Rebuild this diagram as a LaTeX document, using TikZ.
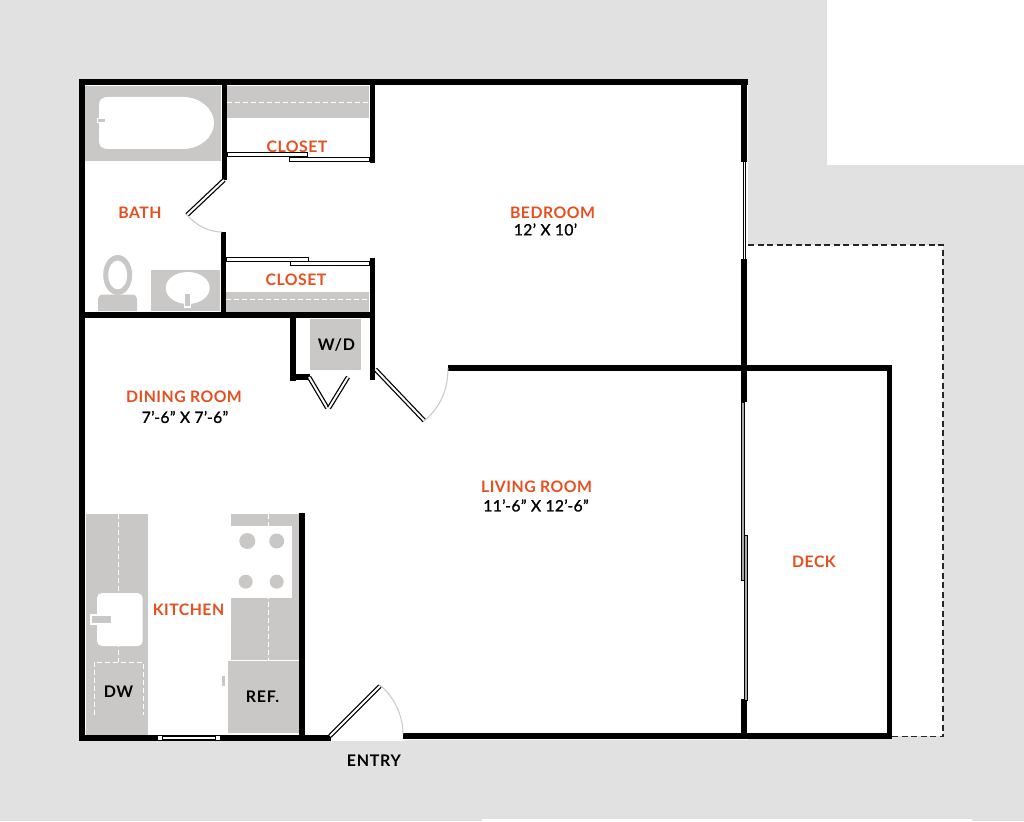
\documentclass[tikz,border=0pt]{standalone}
\usepackage{fontspec}
\setmainfont{Lato}
\newfontfamily\roomfont[LetterSpace=3]{Lato Bold}
\newfontfamily\sizefont[LetterSpace=2.5,FakeBold=1.2]{Lato}
\newfontfamily\appliancefont[LetterSpace=4.5]{Lato Bold}
\definecolor{planbg}{HTML}{E1E1E1}
\definecolor{fixture}{HTML}{C9C8C6}
\definecolor{roomorange}{HTML}{E5501E}
\begin{document}
\begin{tikzpicture}[x=1pt,y=-1pt,
    wall/.style={fill=black},
    fixture/.style={fill=fixture},
    leaf/.style={draw=black,double=white,double distance=2pt,line width=1.25pt},
    track/.style={draw=black,fill=white,line width=1pt},
    slider/.style={draw=black,fill=fixture!85!black,line width=1pt},
    swing/.style={draw=fixture,line width=1pt},
    shelf/.style={draw=white,line width=1pt,dash pattern=on 5pt off 3pt},
    room/.style={text=roomorange,font=\fontsize{15.8}{18}\selectfont\roomfont,inner sep=0pt},
    size/.style={text=black,font=\fontsize{15.6}{17}\selectfont\sizefont,inner sep=0pt},
    appliance/.style={text=black,font=\fontsize{16}{17}\selectfont\appliancefont,inner sep=0pt}]
  \useasboundingbox (0,0) rectangle (1024,821);
  \fill[planbg] (0,0) rectangle (1024,821);
  \fill[white] (827,0) rectangle (1024,165);
  \fill[white] (482,819) rectangle (972,821);
  \fill[white] (79,79) rectangle (748,741);
  \fill[white] (748,245) rectangle (943,736);
  \fill[planbg] (404,739.5) rectangle (943,742);

  \fill[fixture] (85,86) rectangle (221,161);
  \fill[white] (183,97) -- (108,97) .. controls (102,97) and (99,100) .. (99,105)
    -- (99,141) .. controls (99,146) and (102,149) .. (108,149) -- (183,149)
    .. controls (200,149) and (214,137) .. (214,123)
    .. controls (214,109) and (200,97) .. (183,97) -- cycle;
  \fill[white] (97,118) rectangle (106,123);
  \fill[fixture] (98,119) rectangle (105,122);
  \fill[fixture] (227,86) rectangle (369,118);
  \draw[shelf] (227,103) -- (369,103);
  \fill[fixture] (226,292) rectangle (369,312);
  \draw[shelf] (226,299) -- (369,299);

  \fill[even odd rule,fixture] (117.7,275) ellipse [x radius=14.5pt,y radius=20pt]
    (117.7,275) ellipse [x radius=9.5pt,y radius=14.5pt];
  \fill[fixture] (98,311) -- (98,300) .. controls (98,296) and (100,294.5) .. (104,294.5)
    -- (131,294.5) .. controls (135,294.5) and (137,296) .. (137,300) -- (137,311) -- cycle;
  \fill[fixture] (151,270) rectangle (220,311);
  \fill[white] (187.7,288) ellipse [x radius=22pt,y radius=16pt];
  \fill[white] (183.5,292.5) rectangle (191,307.5);
  \fill[fixture] (185,294) rectangle (189.5,306);

  \fill[fixture] (310,319) rectangle (361,370);

  \fill[fixture] (85.7,514) rectangle (147.7,735);
  \draw[shelf] (118.3,514) -- (118.3,662);
  \fill[white,rounded corners=5pt] (97,593) rectangle (142.7,646);
  \fill[white] (90,614) rectangle (111,625);
  \fill[fixture] (92,616) rectangle (111,623);
  \draw[shelf] (94.3,715) -- (94.3,662) -- (143.3,662) -- (143.3,715);
  \fill[fixture] (231,514) rectangle (299,660);
  \draw[shelf] (268.3,514) -- (268.3,660);
  \fill[white] (229,526) rectangle (292,598);
  \foreach \bx/\by/\br in {247.3/541/8,276.7/541/7.5,245.7/581.7/7,276.7/581.7/7}
    \fill[fixture] (\bx,\by) circle [radius=\br pt];
  \fill[white] (227,660) rectangle (299,733.5);
  \fill[fixture] (228,661) rectangle (298.5,732.5);
  \fill[fixture] (222,676) rectangle (225,686);

  \fill[wall] (79.3,79.3) rectangle (748,85.5);
  \fill[wall] (79.3,79.3) rectangle (85.3,741);
  \fill[wall] (79.3,735) rectangle (331,741);
  \fill[wall] (403,733) rectangle (892,739);
  \fill[wall] (85,312) rectangle (375,318);
  \fill[wall] (221.7,85) rectangle (226.7,180);
  \fill[wall] (221,232) rectangle (226,312);
  \fill[wall] (369.5,85) rectangle (375,163);
  \fill[wall] (369.5,258) rectangle (375,380);
  \fill[wall] (290,318) rectangle (295.7,381);
  \fill[wall] (295,374) rectangle (310,380);
  \fill[wall] (448,365) rectangle (892,371);
  \fill[wall] (741.3,85) rectangle (747.3,162);
  \fill[wall] (741.3,259) rectangle (747.3,402);
  \fill[wall] (741.3,699) rectangle (747.3,739);
  \fill[wall] (886.7,365) rectangle (892,739);
  \fill[wall] (299,513) rectangle (305,741);

  \fill[white] (158,736) rectangle (162,740);
  \fill[white] (216,736) rectangle (220,740);
  \fill[white] (163,737) rectangle (215,739.2);

  \draw[track] (227,153) rectangle (307,156.5);
  \draw[track] (289.5,157.5) rectangle (369.5,161.5);
  \draw[track] (226,257) rectangle (308,261);
  \draw[track] (290,261.5) rectangle (369.5,265.5);

  \draw[leaf] (224,180) -- (187,215);
  \draw[leaf] (309,377) -- (327.3,408);
  \draw[leaf] (348,377) -- (329,408);
  \draw[leaf] (375.3,369.3) -- (424.3,420.7);
  \draw[leaf] (330,736) -- (380,686);
  \draw[leaf,double distance=1.2pt,line width=.8pt] (744.3,162) -- (744.3,259);
  \draw[slider] (741.5,402) rectangle (744.5,580);
  \draw[slider] (744.2,535) rectangle (747.8,700);

  \draw[swing] (187,215) .. controls (196,225) and (208,232) .. (222,232);
  \draw[swing] (424,421) .. controls (440,408) and (448,390) .. (448,368);
  \draw[swing] (380,685) .. controls (394,697) and (403,715) .. (403,734);

  \draw[black!85,line width=1.7pt,dash pattern=on 6pt off 3.5pt]
    (748,245) -- (943,245) -- (943,736.5) -- (892,736.5);

  \node[room] (bath) at (140,212.5) {BATH};
  \node[room] (closetup) at (297,147) {CLOSET};
  \node[room] (closetdown) at (296,280) {CLOSET};
  \node[room] (bedroom) at (552.5,212.5) {BEDROOM};
  \node[size] (bedroomsize) at (545.5,229.5) {12’ X 10’};
  \node[room] (dining) at (184,397) {DINING ROOM};
  \node[size] (diningsize) at (185,417) {7’-6” X 7’-6”};
  \node[room] (living) at (536.5,487) {LIVING ROOM};
  \node[size] (livingsize) at (536,505.5) {11’-6” X 12’-6”};
  \node[room] (deck) at (814,562) {DECK};
  \node[room] (kitchen) at (188.5,609.5) {KITCHEN};
  \node[appliance] (wd) at (336.5,344.5) {W/D};
  \node[appliance] (dw) at (118.5,691.5) {DW};
  \node[appliance] (ref) at (262.5,696.5) {REF.};
  \node[appliance] (entry) at (374,760.5) {ENTRY};
\end{tikzpicture}
\end{document}
